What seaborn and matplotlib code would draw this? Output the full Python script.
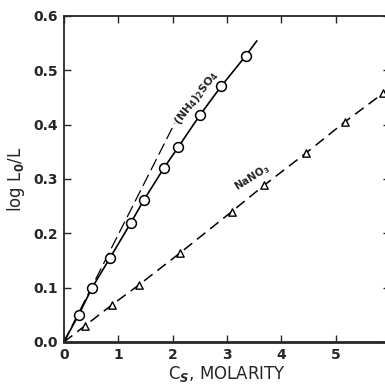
import numpy as np
import pandas as pd
import matplotlib
matplotlib.use("Agg")
import matplotlib.pyplot as plt
import seaborn as sns

# measured points, (NH4)2SO4 (circles)
am_x = [0.27, 0.52, 0.85, 1.23, 1.47, 1.84, 2.10, 2.50, 2.89, 3.35]
am_y = [0.050, 0.100, 0.155, 0.219, 0.261, 0.320, 0.358, 0.417, 0.470, 0.527]
# solid curve through the circles, incl. origin and end of line
am_curve_x = [0.0] + am_x + [3.55]
am_curve_y = [0.0] + am_y + [0.554]
# long-dashed initial-slope line
slope_x = [0.0, 2.04]
slope_y = [0.0, 0.403]

# NaNO3 (triangles)
na_x = [0.39, 0.88, 1.38, 2.14, 3.09, 3.68, 4.46, 5.17, 5.88]
na_y = [0.030, 0.068, 0.105, 0.164, 0.240, 0.288, 0.348, 0.405, 0.458]
na_line_x = [0.0] + na_x + [6.0]
na_line_y = [0.0] + na_y + [0.467]

x_ticks = [0, 1, 2, 3, 4, 5]
y_ticks = [0.0, 0.1, 0.2, 0.3, 0.4, 0.5, 0.6]

sns.set_style("ticks")
plt.rcParams["font.family"] = ["DejaVu Sans"]
plt.rcParams["font.weight"] = "bold"

fig = plt.figure(figsize=(3.85, 3.86), dpi=100)
ax = fig.add_axes([0.166, 0.114, 0.847, 0.845])

sns.lineplot(x=am_curve_x, y=am_curve_y, ax=ax, color="black", lw=1.2, sort=False)
sns.lineplot(x=slope_x, y=slope_y, ax=ax, color="black", lw=0.9, sort=False,
             linestyle=(0, (10, 4)))
sns.lineplot(x=na_line_x, y=na_line_y, ax=ax, color="black", lw=1.1, sort=False,
             linestyle=(0, (7, 4)))
sns.scatterplot(x=am_x, y=am_y, ax=ax, marker="o", s=50, facecolor="white",
                edgecolor="black", linewidth=1.1, zorder=3)
sns.scatterplot(x=na_x, y=na_y, ax=ax, marker="^", s=28, facecolor="white",
                edgecolor="black", linewidth=1.0, zorder=3)

ax.text(2.43, 0.448, "(NH$_4$)$_2$SO$_4$", rotation=52, fontsize=8,
        ha="center", va="center")
ax.text(3.46, 0.302, "NaNO$_3$", rotation=32, fontsize=7.5,
        ha="center", va="center")

ax.set_xlim(0, 6)
ax.set_ylim(0, 0.6)
ax.set_xticks(x_ticks)
ax.set_yticks(y_ticks)
ax.set_yticklabels([f"{v:.1f}" for v in y_ticks])
ax.tick_params(direction="in", length=5, width=1.0, labelsize=10,
               top=True, right=True, pad=4)
for s in ax.spines.values():
    s.set_linewidth(1.3)
ax.spines["bottom"].set_linewidth(2.0)

ax.set_xlabel("C$_S$, MOLARITY", fontsize=12, labelpad=2)
ax.set_ylabel("log L$_0$/L", fontsize=12, labelpad=5)

fig.savefig("out.png", dpi=100)
